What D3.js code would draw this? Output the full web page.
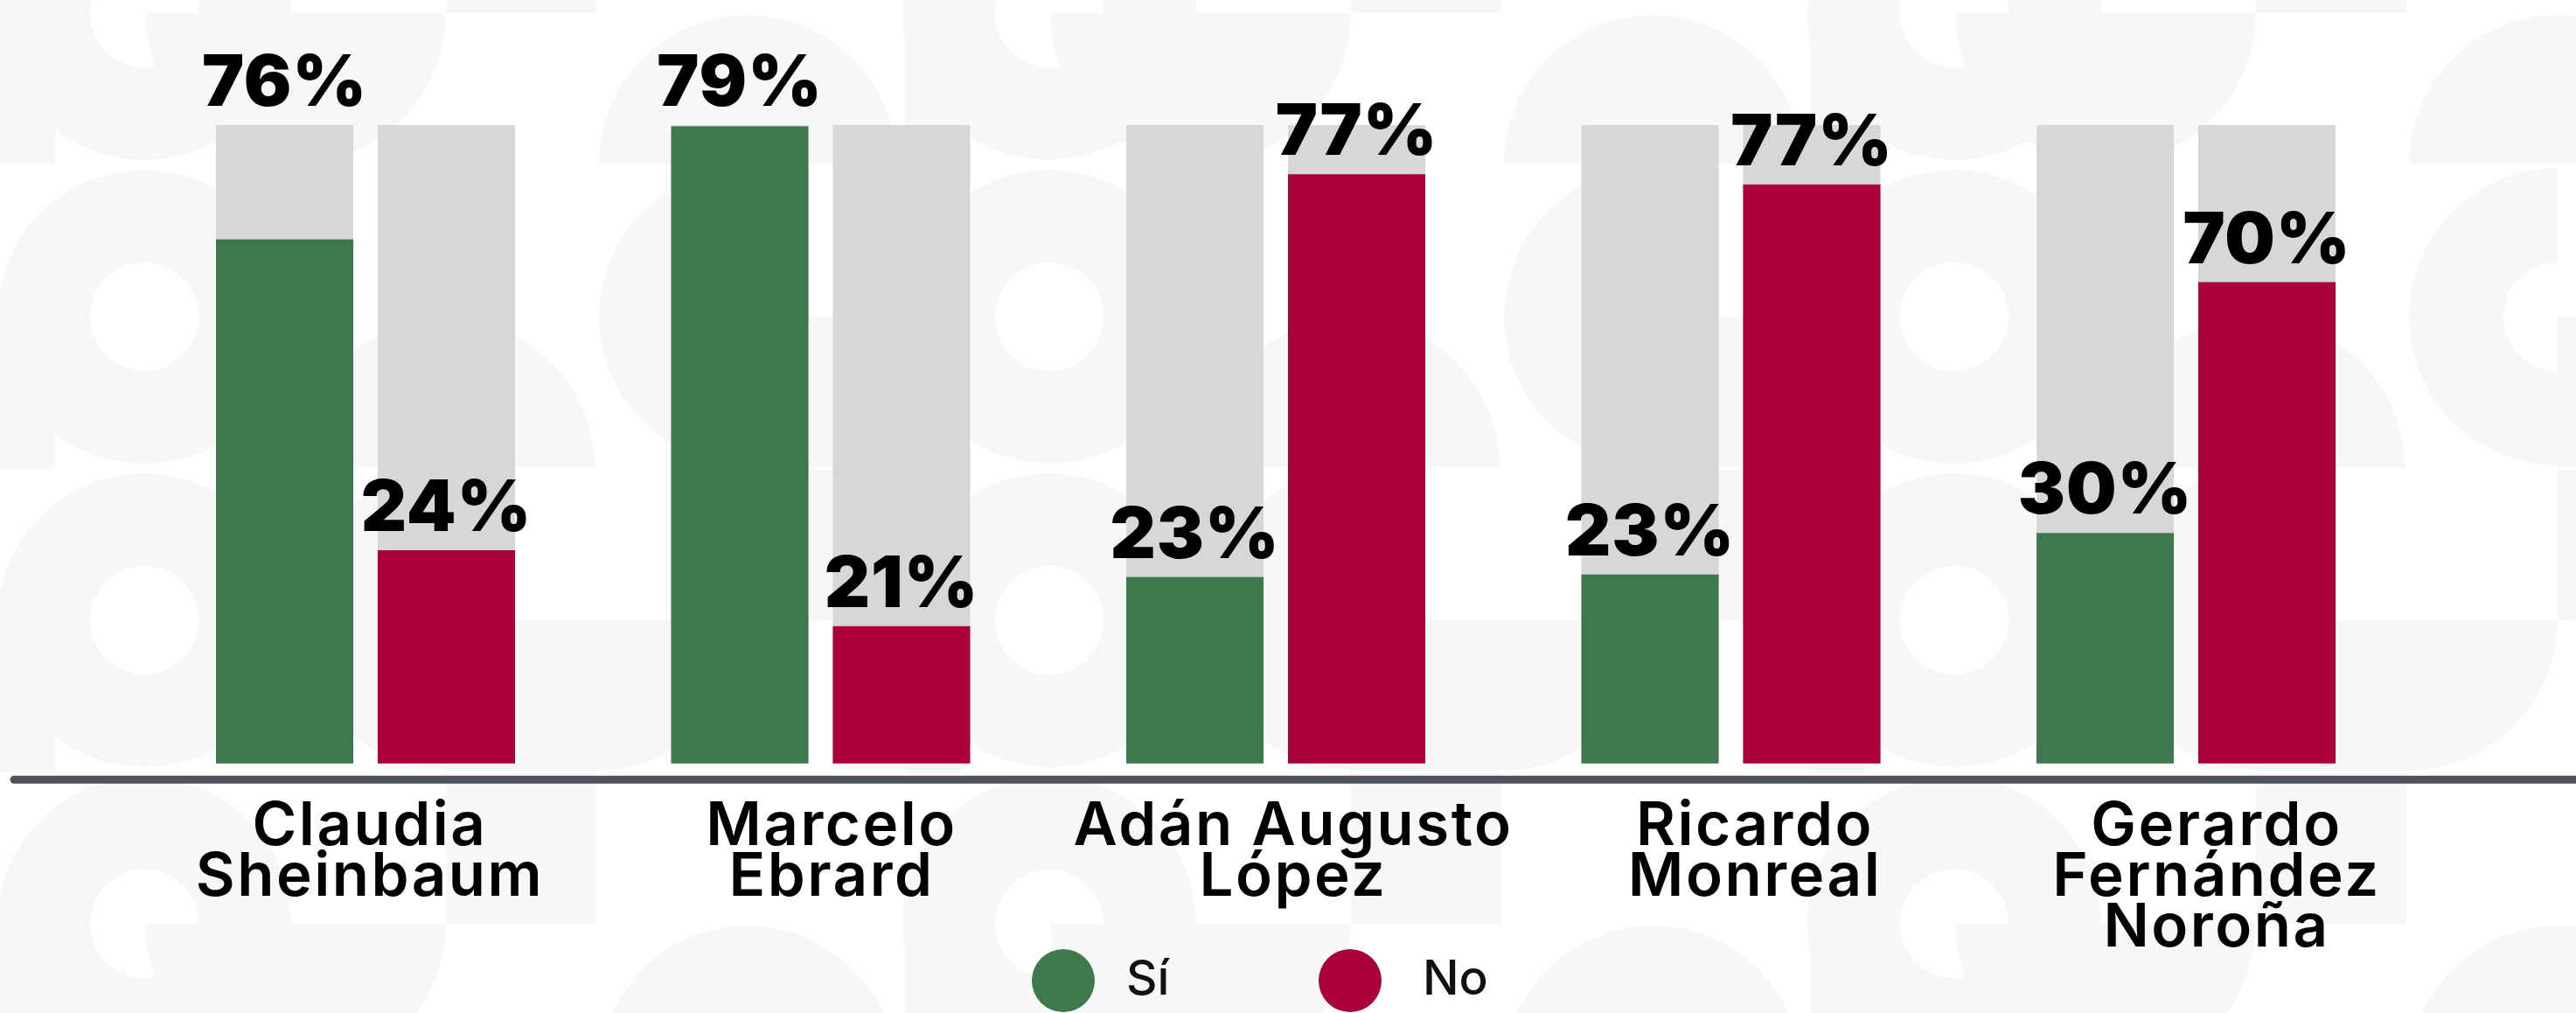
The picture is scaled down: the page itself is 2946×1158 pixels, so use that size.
<!DOCTYPE html>
<html>
<head>
<meta charset="utf-8">
<script src="https://cdn.jsdelivr.net/npm/d3@7"></script>
<style>
  html, body { margin: 0; padding: 0; background: #fff; overflow: hidden; }
  svg { display: block; }
</style>
</head>
<body>
<svg id="chart"></svg>
<script>
// Data
const candidates = ["Claudia Sheinbaum", "Marcelo Ebrard", "Adán Augusto López", "Ricardo Monreal", "Gerardo Fernández Noroña"];
const nameLines = [["Claudia", "Sheinbaum"], ["Marcelo", "Ebrard"], ["Adán Augusto", "López"], ["Ricardo", "Monreal"], ["Gerardo", "Fernández", "Noroña"]];
const series = ["Sí", "No"];
const siLabel = [76, 79, 23, 23, 30];
const noLabel = [24, 21, 77, 77, 70];
// fill level of each bar as drawn, in % of the grey track
const siBar = [82.1, 99.8, 29.2, 29.6, 36.1];
const noBar = [33.4, 21.5, 92.3, 90.7, 75.4];

const W = 2946, H = 1158;
const colors = { "Sí": "#3e784e", "No": "#aa003c" };

const svg = d3.select("#chart").attr("width", W).attr("height", H);

// ---- background pattern (light decorative shapes)
const bg = svg.append("g").attr("fill", "#f7f7f7");
const cellW = 345, cellH = 347;
for (let c = 0; c < 9; c++) {
  for (let r = 0; r < 4; r++) {
    const cx = 165 + c * cellW, cy = 15 + r * cellH;
    const k = (c + r) % 3;
    if (c % 3 === 0) {
      // ring with a hole
      bg.append("path")
        .attr("d", d3.arc()({ innerRadius: 62, outerRadius: 168, startAngle: 0, endAngle: 2 * Math.PI }))
        .attr("transform", `translate(${cx},${cy})`);
      bg.append("rect").attr("x", cx - 165).attr("y", cy).attr("width", 63).attr("height", cellH / 2);
    } else if (k === 1) {
      bg.append("path")
        .attr("d", d3.arc()({ innerRadius: 0, outerRadius: 172, startAngle: Math.PI / 2, endAngle: Math.PI * 1.5 }))
        .attr("transform", `translate(${cx - 172},${cy})`);
      bg.append("rect").attr("x", cx).attr("y", cy - 172).attr("width", 172).attr("height", 172);
    } else if (k === 2) {
      bg.append("path")
        .attr("d", d3.arc()({ innerRadius: 0, outerRadius: 170, startAngle: -Math.PI / 2, endAngle: Math.PI / 2 }))
        .attr("transform", `translate(${cx},${cy + 172})`);
    } else {
      bg.append("path")
        .attr("d", d3.arc()({ innerRadius: 62, outerRadius: 170, startAngle: Math.PI, endAngle: 2 * Math.PI }))
        .attr("transform", `translate(${cx},${cy})`);
      bg.append("rect").attr("x", cx).attr("y", cy).attr("width", 172).attr("height", 172);
    }
  }
}

// ---- scales
const x0 = d3.scaleBand().domain(candidates).range([247, 2671]).paddingInner(0.343);
const x1 = d3.scaleBand().domain(series).range([0, x0.bandwidth()]).paddingInner(0.151);
const y = d3.scaleLinear().domain([0, 100]).range([872.7, 143]);
const xName = d3.scalePoint().domain(candidates).range([423, 2535]);

const rows = candidates.map((c, i) => ({
  c,
  vals: [
    { s: "Sí", bar: siBar[i], label: siLabel[i] },
    { s: "No", bar: noBar[i], label: noLabel[i] }
  ]
}));

const groups = svg.append("g").selectAll("g")
  .data(rows)
  .join("g")
  .attr("transform", d => `translate(${x0(d.c)},0)`);

// grey track
groups.selectAll("rect.track")
  .data(d => d.vals)
  .join("rect")
  .attr("class", "track")
  .attr("x", d => x1(d.s))
  .attr("y", y(100))
  .attr("width", x1.bandwidth())
  .attr("height", y(0) - y(100))
  .attr("fill", "#d8d6d7");

// coloured fill
groups.selectAll("rect.fill")
  .data(d => d.vals)
  .join("rect")
  .attr("class", "fill")
  .attr("x", d => x1(d.s))
  .attr("y", d => y(d.bar))
  .attr("width", x1.bandwidth())
  .attr("height", d => y(0) - y(d.bar))
  .attr("fill", d => colors[d.s]);

// value labels (the leading "Sí" sits on top of the track)
groups.selectAll("text.val")
  .data(d => d.vals)
  .join("text")
  .attr("class", "val")
  .attr("x", d => x1(d.s) + x1.bandwidth() / 2)
  .attr("y", d => (d.s === "Sí" && d.label > 50 ? y(100) : y(d.bar)) - 22)
  .attr("text-anchor", "middle")
  .style("font-family", "Inter, 'Open Sans', sans-serif")
  .style("font-weight", 900)
  .style("font-size", "81px")
  .style("letter-spacing", "1px")
  .attr("fill", "#000")
  .text(d => d.label + "%");

// baseline
svg.append("line")
  .attr("x1", 16).attr("x2", W + 20)
  .attr("y1", 891.3).attr("y2", 891.3)
  .attr("stroke", "#4f5060")
  .attr("stroke-width", 9)
  .attr("stroke-linecap", "round");

// candidate names
const names = svg.append("g").selectAll("text")
  .data(candidates)
  .join("text")
  .attr("x", d => xName(d))
  .attr("y", 966)
  .attr("text-anchor", "middle")
  .style("font-family", "Inter, 'Open Sans', sans-serif")
  .style("font-weight", 600)
  .style("font-size", "69px")
  .style("letter-spacing", "2.5px")
  .attr("fill", "#000");

names.selectAll("tspan")
  .data((d, i) => nameLines[i])
  .join("tspan")
  .attr("x", function () { return d3.select(this.parentNode).attr("x"); })
  .attr("dy", (d, i) => i === 0 ? 0 : 58)
  .text(d => d);

// legend
const xLeg = d3.scalePoint().domain(series).range([1216, 1544]);
const leg = svg.append("g").selectAll("g")
  .data(series)
  .join("g")
  .attr("transform", d => `translate(${xLeg(d)},1121)`);

leg.append("circle")
  .attr("r", 36)
  .attr("fill", d => colors[d]);

leg.append("text")
  .attr("x", (d, i) => i === 0 ? 72 : 83)
  .attr("y", 16)
  .style("font-family", "Inter, 'Open Sans', sans-serif")
  .style("font-weight", 500)
  .style("font-size", "55px")
  .attr("fill", "#111")
  .text(d => d);
</script>
</body>
</html>
